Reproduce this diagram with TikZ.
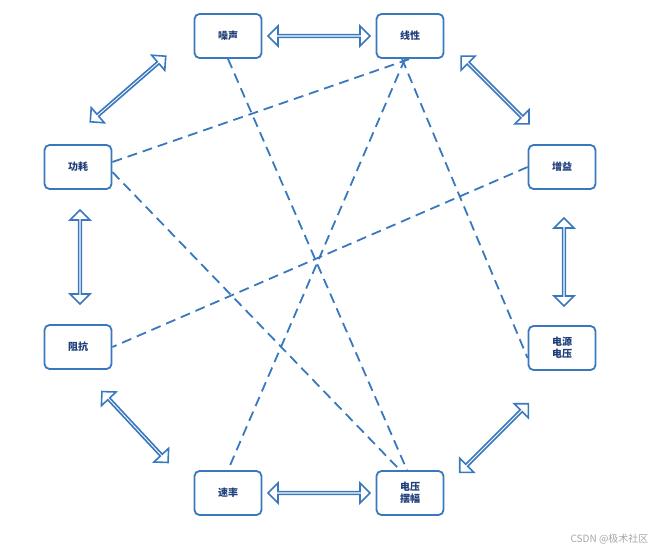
\documentclass[tikz,border=0pt]{standalone}
\usepackage{fontspec}
\setmainfont{Noto Sans CJK SC}
\usetikzlibrary{shapes.arrows}
\definecolor{bl}{HTML}{3A78BE}
\definecolor{tx}{HTML}{1F3F7A}
\tikzset{
 box/.style={draw=bl,line width=1.8pt,rounded corners=5pt,minimum width=67pt,minimum height=44pt,align=center,font=\bfseries\fontsize{10}{12}\selectfont,text=tx,fill=white},
 dbl/.style={double arrow,draw=bl,line width=1.6pt,fill=white,inner sep=0pt,minimum width=20pt,double arrow head extend=5pt,double arrow tip angle=90},
 dsh/.style={draw=bl,line width=1.8pt,dash pattern=on 10pt off 6pt}
}
\begin{document}
\begin{tikzpicture}[x=1pt,y=-1pt]
\useasboundingbox (0,0) rectangle (660,552);
\node[box] (zs) at (228,36) {噪声};
\node[box] (xx) at (410,36) {线性};
\node[box] (gh) at (78,167) {功耗};
\node[box] (zy) at (562,167) {增益};
\node[box] (zk) at (78,347) {阻抗};
\node[box] (dy) at (562,348) {电源\\电压};
\node[box] (sl) at (228,493) {速率};
\node[box] (bf) at (410,493) {电压\\摆幅};
\node[dbl,minimum height=102pt] (h1) at (319,36) {};
\node[dbl,minimum height=102pt] (h2) at (319,493) {};
\node[dbl,minimum height=100pt,rotate=41] (a) at (128,89) {};
\node[dbl,minimum height=96pt,rotate=-45] (b) at (495,90) {};
\node[dbl,minimum height=94pt,rotate=90] (c) at (80,257) {};
\node[dbl,minimum height=88pt,rotate=90] (d) at (564,262) {};
\node[dbl,minimum height=97pt,rotate=-47] (e) at (135,427) {};
\node[dbl,minimum height=97pt,rotate=45] (f) at (494,438) {};
\draw[dsh] (gh.east) ++(0,-5) -- (xx.south);
\draw[dsh] (gh.east) ++(0,5) -- ([xshift=-10pt]bf.north);
\draw[dsh] (zs.south) -- ([xshift=-3pt]bf.north);
\draw[dsh] ([xshift=-5pt]xx.south) -- (sl.north);
\draw[dsh] ([xshift=-8pt]xx.south) -- ([yshift=-10pt]dy.west);
\draw[dsh] (zy.west) -- (zk.east);
\node[text=gray!70,font=\fontsize{10}{12}\selectfont,anchor=south east] (wm) at (652,548) {CSDN @极术社区};
\end{tikzpicture}
\end{document}
